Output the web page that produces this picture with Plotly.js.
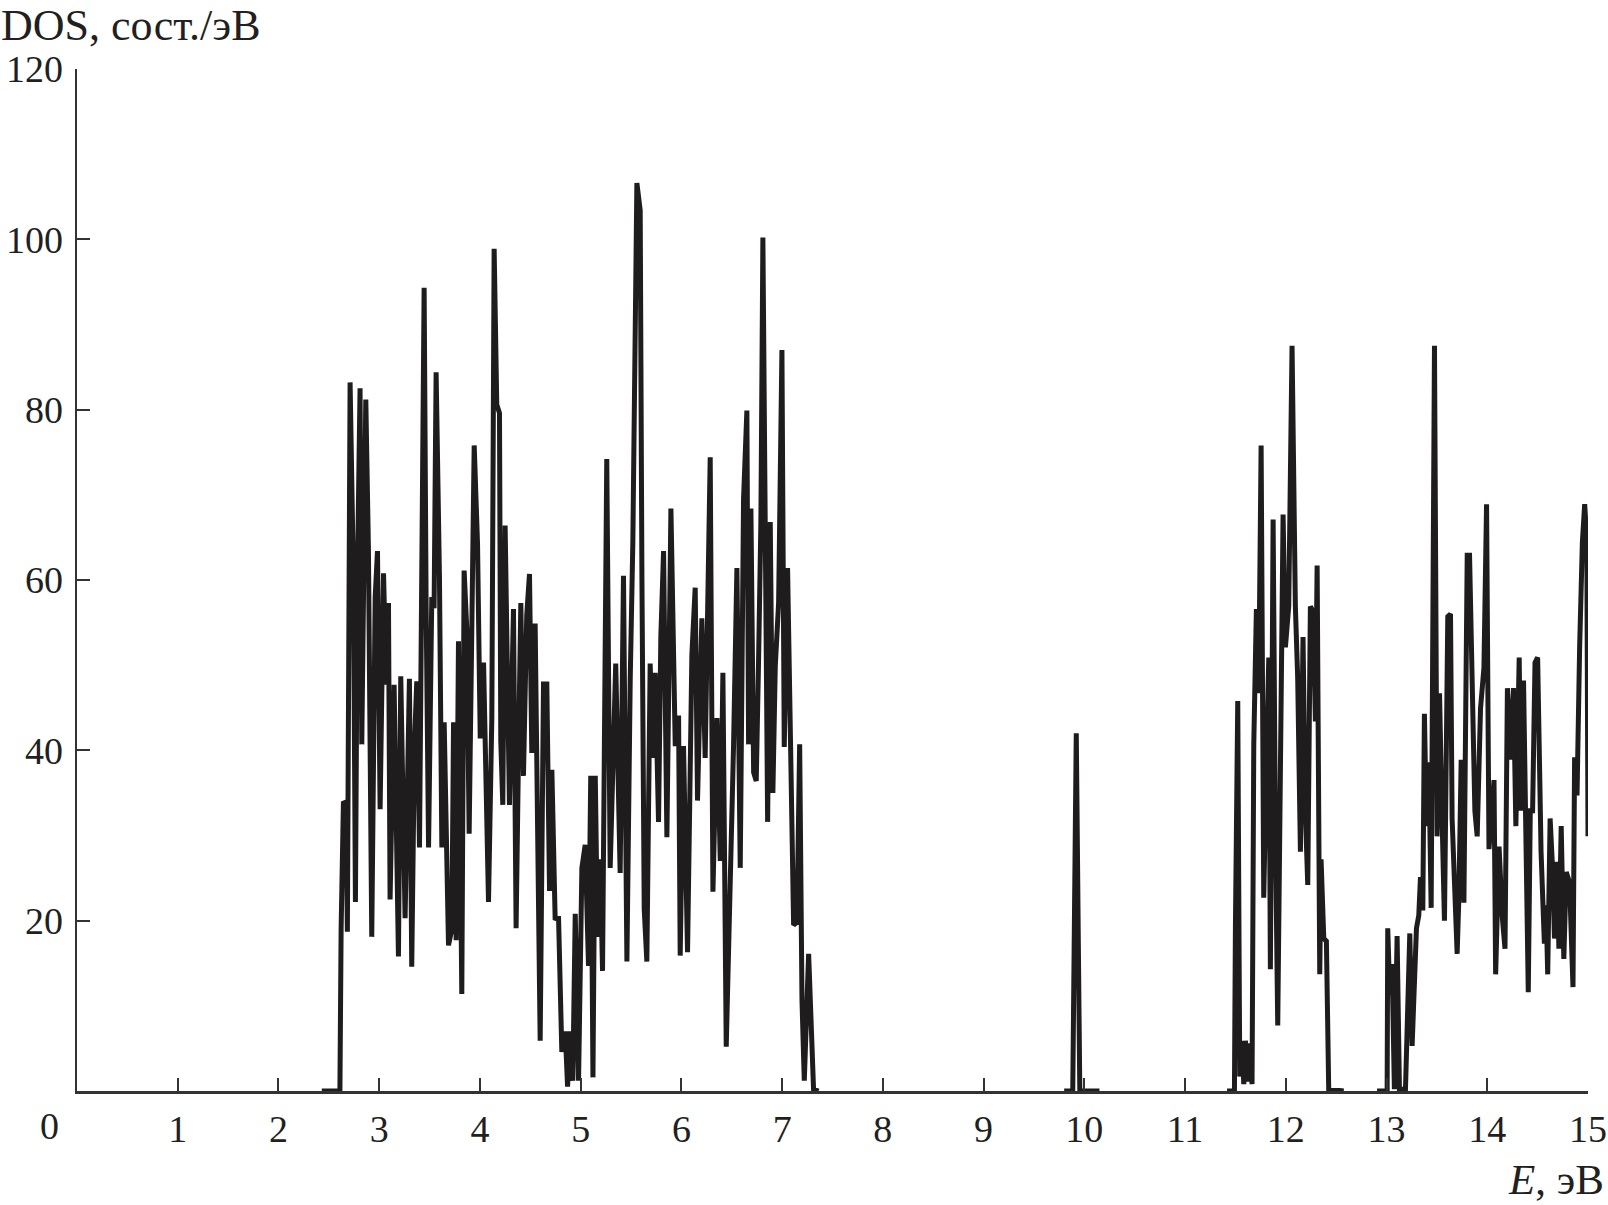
<!DOCTYPE html>
<html>
<head>
<meta charset="utf-8">
<script src="https://cdn.plot.ly/plotly-3.0.1.min.js"></script>
<style>html,body{margin:0;padding:0;background:#fff;}#chart{width:1608px;height:1205px;}</style>
</head>
<body>
<div id="chart"></div>
<script>
// Energy (eV) and DOS (states/eV); null separates bands
const energy = [
  2.43, 2.61, 2.622, 2.645, 2.671, 2.684, 2.711, 2.744, 2.764, 2.784, 2.81, 2.827, 2.867, 2.893, 2.926, 2.96, 2.983,
  3.009, 3.043, 3.07, 3.092, 3.108, 3.148, 3.191, 3.214, 3.257, 3.3, 3.323, 3.35, 3.373, 3.4, 3.423, 3.446, 3.466,
  3.49, 3.522, 3.545, 3.565, 3.598, 3.622, 3.645, 3.688, 3.721, 3.738, 3.764, 3.787, 3.82, 3.843, 3.87, 3.893, 3.92,
  3.943, 3.976, 4.003, 4.036, 4.085, 4.118, 4.141, 4.167, 4.194, 4.207, 4.227, 4.25, 4.273, 4.293, 4.333, 4.359,
  4.383, 4.406, 4.432, 4.465, 4.492, 4.515, 4.548, 4.572, 4.598, 4.631, 4.664, 4.691, 4.714, 4.747, 4.78, 4.813,
  4.847, 4.87, 4.896, 4.922, 4.946, 4.979, 5.012, 5.045, 5.078, 5.1, 5.122, 5.145, 5.167, 5.194, 5.217, 5.259, 5.293,
  5.348, 5.392, 5.425, 5.459, 5.492, 5.518, 5.558, 5.591, 5.608, 5.631, 5.657, 5.69, 5.717, 5.74, 5.773, 5.796,
  5.823, 5.856, 5.896, 5.939, 5.972, 5.988, 6.021, 6.061, 6.104, 6.137, 6.16, 6.203, 6.236, 6.26, 6.286, 6.313,
  6.353, 6.386, 6.412, 6.445, 6.485, 6.518, 6.551, 6.584, 6.617, 6.65, 6.667, 6.69, 6.717, 6.743, 6.766, 6.789,
  6.809, 6.832, 6.856, 6.882, 6.908, 6.932, 6.965, 6.998, 7.021, 7.054, 7.088, 7.114, 7.147, 7.174, 7.197, 7.22,
  7.263, 7.279, 7.312, 7.362,
  null,
  9.80, 9.885, 9.92, 9.955, 10.15,
  null,
  11.417, 11.49, 11.5, 11.523, 11.543, 11.566, 11.583, 11.599, 11.622, 11.642, 11.665, 11.682, 11.708, 11.731,
  11.755, 11.781, 11.808, 11.831, 11.847, 11.874, 11.897, 11.92, 11.94, 11.973, 11.996, 12.029, 12.062, 12.095,
  12.118, 12.145, 12.171, 12.194, 12.218, 12.244, 12.271, 12.294, 12.311, 12.337, 12.35, 12.377, 12.403, 12.426,
  12.575,
  null,
  12.906, 13.006, 13.012, 13.032, 13.055, 13.078, 13.105, 13.128, 13.188, 13.211, 13.231, 13.254, 13.277, 13.297,
  13.32, 13.337, 13.36, 13.376, 13.396, 13.42, 13.443, 13.476, 13.502, 13.526, 13.552, 13.575, 13.608, 13.635,
  13.651, 13.675, 13.701, 13.718, 13.741, 13.768, 13.801, 13.824, 13.851, 13.877, 13.9, 13.933, 13.967, 13.993,
  14.017, 14.04, 14.067, 14.083, 14.117, 14.15, 14.176, 14.2, 14.233, 14.26, 14.284, 14.317, 14.334, 14.36, 14.384,
  14.407, 14.427, 14.45, 14.474, 14.5, 14.534, 14.567, 14.584, 14.6, 14.624, 14.65, 14.667, 14.691, 14.711, 14.734,
  14.76, 14.784, 14.817, 14.851, 14.867, 14.891, 14.917, 14.944, 14.967, 14.988, 15.0
];
const dos = [
  0, 0, 19.0, 34.0, 33.7, 18.7, 83.2, 60.5, 22.2, 60.8, 82.5, 40.7, 81.2, 63.7, 18.1, 58, 63.4,
  33.1, 60.8, 47.7, 57.3, 22.5, 47.7, 15.8, 48.7, 20.3, 48.4, 14.6, 40.7, 48.1, 28.6, 54.8, 94.3, 56.7,
  28.6, 58, 56.7, 84.4, 60.5, 28.6, 43.3, 17.1, 19.0, 43.3, 17.7, 52.8, 11.4, 61.1, 54.1, 30.2, 54.1,
  75.8, 64.3, 41.4, 50.3, 22.2, 43.8, 98.9, 80.6, 79.6, 41.1, 33.6, 66.4, 45.8, 33.6, 56.6, 19.1,
  39.7, 57.3, 37, 55.9, 60.7, 39.7, 54.9, 30.3, 5.9, 47.8, 47.8, 23.5, 37.7, 20.1, 20.5, 4.6,
  7, 0.5, 7, 1.2, 20.8, 1.2, 26.2, 28.9, 14.7, 37, 1.6, 37, 18.1, 27.2, 14.1, 74.2, 26.2,
  50.2, 25.6, 60.5, 15.2, 48.4, 64.5, 106.6, 103.4, 60.5, 21.3, 15.2, 50.2, 39.1, 49.1, 31.6, 53.4,
  63.4, 29.8, 68.4, 40.5, 44.1, 15.9, 40.5, 16.3, 51.2, 59.1, 34.1, 55.5, 39.1, 58.4, 74.4, 23.4,
  43.8, 27, 49.1, 5.2, 24.2, 40.7, 61.4, 26.2, 69.5, 79.9, 40.7, 68.4, 37.4, 36.4, 50.5, 66.8,
  100.2, 60.7, 31.6, 66.8, 35, 49.9, 57.3, 87, 40.4, 61.4, 40.4, 19.5, 19.8, 40.7, 10.7, 1.2,
  16.1, 10, 0.2, 0,
  null,
  0, 0, 42, 0, 0,
  null,
  0, 0, 19.4, 45.8, 1.7, 5.9, 0.8, 5.9, 1.1, 5.6, 0.8, 40.7, 56.6, 46.7,
  75.8, 22.7, 38.9, 50.9, 14.3, 67.1, 30.5, 7.7, 30.5, 67.7, 52.1, 56.9, 87.5, 56.9,
  48.5, 28.1, 53.3, 32.9, 24.2, 56.9, 56.3, 43.4, 61.7, 13.7, 27.2, 17.9, 17.6, 0.2,
  0,
  null,
  0, 0, 19.1, 11.3, 14.9, 0.2, 18.2, 0.2, 0.2, 11.9, 18.5, 5.3, 14.3, 19.1,
  20.6, 25.1, 21.2, 44.3, 31.1, 38.6, 21.5, 87.5, 29.9, 46.7, 31.7, 20, 55.7, 56,
  32, 24.5, 16.1, 22.7, 38.9, 22.1, 62.9, 62.9, 43.7, 32.9, 29.9, 44.9, 49.7, 68.9,
  28.4, 31.7, 36.5, 13.7, 28.7, 20.3, 16.7, 47.3, 38.9, 47.3, 31.1, 50.9, 32.9, 48.2, 23.9,
  11.6, 32.9, 32.9, 50.3, 50.9, 28.1, 17.3, 21.8, 13.7, 32, 25.7, 17.9, 26.9, 16.7, 31.1,
  15.5, 25.7, 24.5, 12.2, 39.2, 34.7, 52.1, 64.4, 68.9, 64.7, 29.9
];
const xTicks = [1,2,3,4,5,6,7,8,9,10,11,12,13,14,15];
const yTicks = [20,40,60,80,100,120];
const yTitle = "DOS, сост./эВ";
const xTitle = "<i>E</i>, эВ";

const FONT = "Liberation Serif, Times New Roman, serif";
const INK = "#231f20";

const trace = {
  x: energy, y: dos, type: "scatter", mode: "lines",
  connectgaps: false,
  line: {color: "#1f1c1d", width: 5},
  hoverinfo: "skip"
};

const layout = {
  width: 1608, height: 1205,
  margin: {l: 77, r: 20, t: 69, b: 114, pad: 0},
  paper_bgcolor: "#fff", plot_bgcolor: "#fff",
  showlegend: false,
  font: {family: FONT, color: INK, size: 38},
  xaxis: {
    range: [0, 15], tickvals: xTicks, ticktext: xTicks.map(String),
    ticks: "inside", ticklen: 13, tickwidth: 2, tickcolor: "#333",
    showline: true, linewidth: 2.5, linecolor: "#333",
    showgrid: false, zeroline: false,
    tickfont: {family: FONT, size: 38, color: INK},
    ticklabelstandoff: 3
  },
  yaxis: {
    range: [0, 120], tickvals: yTicks, ticktext: yTicks.map(String),
    ticks: "inside", ticklen: 13, tickwidth: 2, tickcolor: "#333",
    showline: true, linewidth: 2.5, linecolor: "#333",
    showgrid: false, zeroline: false,
    tickfont: {family: FONT, size: 38, color: INK},
    ticklabelstandoff: 4
  },
  annotations: [
    {text: yTitle, xref: "paper", yref: "paper", x: -0.051, y: 1.0675,
     xanchor: "left", yanchor: "top", showarrow: false, borderpad: 0,
     font: {family: FONT, size: 44, color: INK}},
    {text: xTitle, xref: "paper", yref: "paper", x: 1.012, y: -0.087,
     xanchor: "right", yanchor: "middle", showarrow: false,
     font: {family: FONT, size: 43, color: INK}},
    {text: "0", xref: "paper", yref: "paper", x: -0.0179, y: -0.034,
     xanchor: "center", yanchor: "middle", showarrow: false,
     font: {family: FONT, size: 38, color: INK}}
  ]
};

Plotly.newPlot("chart", [trace], layout, {staticPlot: true, displayModeBar: false});
</script>
</body>
</html>
